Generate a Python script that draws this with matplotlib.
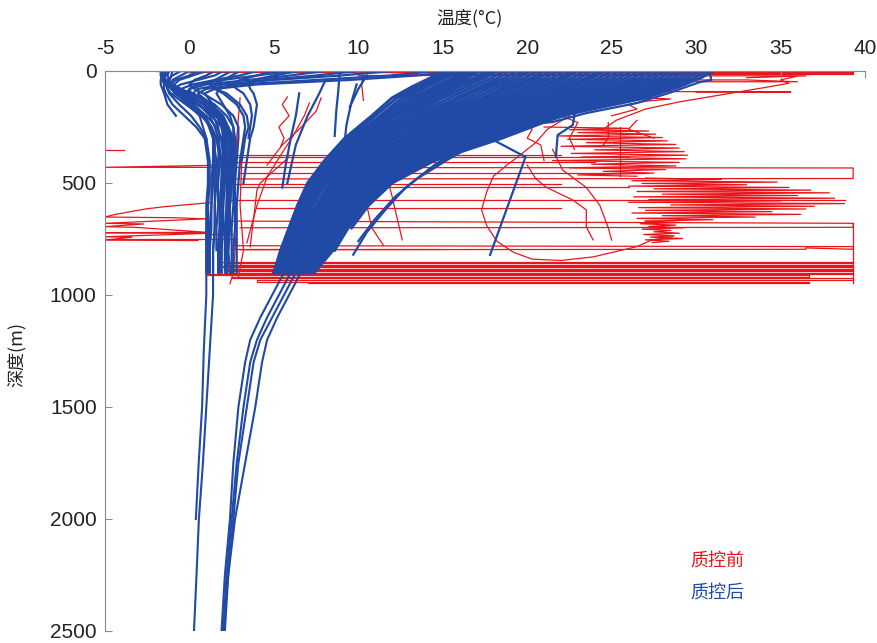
import matplotlib
matplotlib.use("Agg")
import matplotlib.pyplot as plt

# depth grids (m)
warm_depth = [0, 30, 70, 120, 200, 300, 400, 500, 600, 700, 800, 900]
cold_depth = [0, 20, 40, 60, 80, 100, 150, 200, 250, 300, 400, 500, 600, 700, 800, 900]
deep_warm_depth = [0, 50, 100, 200, 300, 400, 500, 600, 700, 800, 900, 1000, 1100, 1200, 1300, 1400, 1500,
                   1750, 2000, 2250, 2500]
deep_cold_depth = [0, 50, 100, 200, 300, 400, 500, 600, 700, 800, 900, 1000, 1250, 1500, 1750, 2000, 2250, 2500]

# after QC: warm profiles (temperature per depth level)
warm_T = [
    [15.0, 14.3, 13.2, 12.0, 10.8, 9.2, 8.0, 7.0, 6.4, 5.9, 5.4, 5.0],
    [15.3, 14.6, 13.5, 12.3, 11.0, 9.4, 8.1, 7.1, 6.5, 6.0, 5.5, 5.0],
    [15.6, 14.9, 13.8, 12.6, 11.3, 9.6, 8.3, 7.2, 6.6, 6.0, 5.5, 5.1],
    [16.0, 15.2, 14.1, 12.9, 11.5, 9.8, 8.4, 7.3, 6.6, 6.1, 5.6, 5.2],
    [16.3, 15.6, 14.5, 13.2, 11.7, 9.9, 8.5, 7.4, 6.7, 6.2, 5.7, 5.2],
    [16.6, 15.9, 14.8, 13.5, 11.9, 10.1, 8.6, 7.5, 6.8, 6.2, 5.7, 5.2],
    [16.9, 16.2, 15.1, 13.8, 12.1, 10.3, 8.8, 7.6, 6.9, 6.3, 5.8, 5.3],
    [17.2, 16.5, 15.4, 14.1, 12.3, 10.5, 8.9, 7.7, 7.0, 6.4, 5.8, 5.3],
    [17.6, 16.9, 15.7, 14.4, 12.6, 10.7, 9.0, 7.8, 7.1, 6.5, 5.9, 5.4],
    [17.9, 17.2, 16.0, 14.7, 12.8, 10.9, 9.1, 7.9, 7.1, 6.5, 6.0, 5.4],
    [18.2, 17.5, 16.4, 15.0, 13.0, 11.1, 9.3, 8.0, 7.2, 6.6, 6.1, 5.5],
    [18.6, 17.9, 16.8, 15.4, 13.3, 11.3, 9.4, 8.1, 7.3, 6.7, 6.2, 5.6],
    [19.0, 18.3, 17.2, 15.8, 13.6, 11.5, 9.6, 8.3, 7.5, 6.8, 6.3, 5.7],
    [19.4, 18.7, 17.5, 16.1, 13.9, 11.7, 9.8, 8.4, 7.6, 6.9, 6.3, 5.7],
    [19.8, 19.1, 17.9, 16.5, 14.2, 12.0, 10.0, 8.5, 7.7, 7.0, 6.4, 5.8],
    [20.2, 19.5, 18.3, 16.9, 14.4, 12.2, 10.1, 8.6, 7.8, 7.1, 6.5, 5.9],
    [20.6, 19.9, 18.7, 17.3, 14.7, 12.5, 10.3, 8.8, 7.9, 7.2, 6.6, 6.0],
    [21.0, 20.3, 19.1, 17.6, 15.0, 12.7, 10.4, 8.9, 8.0, 7.3, 6.7, 6.0],
    [21.4, 20.7, 19.5, 18.0, 15.3, 12.9, 10.6, 9.0, 8.1, 7.4, 6.8, 6.1],
    [21.8, 21.1, 19.9, 18.4, 15.5, 13.1, 10.7, 9.1, 8.2, 7.5, 6.8, 6.1],
    [22.2, 21.5, 20.3, 18.8, 15.8, 13.4, 10.9, 9.3, 8.3, 7.6, 6.9, 6.2],
    [22.6, 21.9, 20.7, 19.1, 16.1, 13.6, 11.1, 9.4, 8.4, 7.7, 7.0, 6.3],
    [23.0, 22.3, 21.1, 19.5, 16.4, 13.9, 11.3, 9.5, 8.5, 7.8, 7.1, 6.4],
    [23.4, 22.7, 21.5, 19.9, 16.7, 14.1, 11.4, 9.6, 8.6, 7.8, 7.2, 6.4],
    [23.8, 23.1, 21.9, 20.3, 17.0, 14.3, 11.6, 9.8, 8.7, 7.9, 7.3, 6.5],
    [24.2, 23.5, 22.3, 20.6, 17.2, 14.5, 11.7, 9.9, 8.8, 8.0, 7.3, 6.5],
    [24.6, 23.9, 22.7, 21.0, 17.5, 14.8, 11.9, 10.0, 8.9, 8.1, 7.4, 6.6],
    [25.0, 24.3, 23.1, 21.4, 17.8, 15.0, 12.0, 10.1, 9.0, 8.2, 7.5, 6.7],
    [25.4, 24.7, 23.5, 21.8, 18.1, 15.3, 12.2, 10.3, 9.1, 8.3, 7.6, 6.8],
    [25.8, 25.1, 23.9, 22.1, 18.3, 15.5, 12.4, 10.4, 9.2, 8.4, 7.7, 6.8],
    [26.2, 25.5, 24.3, 22.5, 18.6, 15.7, 12.6, 10.5, 9.3, 8.5, 7.8, 6.9],
    [26.6, 25.9, 24.7, 22.9, 18.9, 15.9, 12.7, 10.6, 9.4, 8.6, 7.9, 7.0],
    [27.0, 26.3, 25.1, 23.3, 19.2, 16.2, 12.9, 10.8, 9.6, 8.7, 8.0, 7.0],
    [27.4, 26.7, 25.4, 23.6, 19.5, 16.4, 13.0, 10.9, 9.7, 8.8, 8.0, 7.1],
    [27.8, 27.1, 25.8, 24.0, 19.8, 16.6, 13.2, 11.0, 9.8, 8.9, 8.1, 7.2],
    [28.2, 27.5, 26.2, 24.4, 20.0, 16.8, 13.3, 11.1, 9.9, 9.0, 8.2],
    [28.6, 27.9, 26.6, 24.8, 20.3, 17.1, 13.5, 11.3, 10.0, 9.1, 8.3, 7.3],
    [29.0, 28.3, 27.0, 25.1, 20.6, 17.3, 13.7, 11.4, 10.1, 9.1, 8.4],
    [29.4, 28.7, 27.4, 25.5, 20.9, 17.6, 13.9, 11.5, 10.2, 9.2, 8.5, 7.4],
    [29.8, 29.1, 27.8, 25.9, 21.1, 17.8, 14.0, 11.6, 10.3, 9.3],
    [30.2, 29.5, 28.2, 26.3, 21.4, 18.0, 14.2, 11.8, 10.4, 9.4, 8.6],
    [30.6, 29.9, 28.6, 26.6, 21.7, 18.2, 14.3, 11.9],
    [31.0, 30.3, 29.0, 27.0, 22.0, 18.5, 14.5, 12.0, 10.6, 9.6],
]

deep_warm_T = [
    [20.0, 18.5, 16.5, 13.6, 11.8, 10.0, 8.5, 7.6, 6.9, 6.2, 5.6, 4.9, 4.2, 3.6, 3.3, 3.1, 2.9, 2.6, 2.4, 2.1, 1.9],
    [23.0, 21.5, 19.5, 16.0, 13.6, 11.2, 9.5, 8.4, 7.6, 6.9, 6.3, 5.6, 4.9, 4.2, 3.8, 3.6, 3.4, 2.9, 2.6, 2.3, 2.0],
    [21.5, 20.0, 18.0, 15.0, 12.8, 10.6, 9.0, 8.0, 7.3, 6.6, 6.0, 5.3, 4.6, 4.0, 3.6, 3.4, 3.2, 2.8, 2.5, 2.2, 2.0],
    [24.5, 23.0, 21.0, 17.0, 14.5, 11.8, 10.0, 8.8, 8.0, 7.3, 6.6, 5.9, 5.2, 4.6, 4.3, 4.1, 3.9, 3.3, 2.7, 2.3, 2.1],
]

cold_T = [
    [-1.6, -1.6, -1.6, -1.5, -1.5, -1.4, -1.0, -0.3, 0.4, 0.9, 1.1, 1.1, 1.0, 1.0, 1.0, 1.0],
    [-1.5, -1.5, -1.4, -1.2, -1.0, -0.6, 0.3, 0.9, 1.3, 1.5, 1.5, 1.4, 1.3, 1.3, 1.2, 1.2],
    [-1.2, -1.3, -1.2, -1.0, -0.5, 0.0, 0.8, 1.4, 1.7, 1.8, 1.7, 1.6, 1.5, 1.5, 1.4, 1.4],
    [0.5, 0.0, -0.8, -1.2, -1.3, -1.1, -0.2, 0.7, 1.3, 1.6, 1.8, 1.7, 1.7, 1.6, 1.6],
    [2.0, 1.5, 0.5, -0.5, -1.0, -0.9, 0.2, 1.0, 1.6, 1.9, 2.0, 1.9, 1.8, 1.8, 1.7, 1.7],
    [4.0, 3.0, 1.5, 0.2, -0.5, -0.6, 0.5, 1.3, 1.9, 2.1, 2.1, 2.0, 1.9, 1.9, 1.8, 1.8],
    [8.0, 6.0, 3.5, 1.0, 0.0, -0.2, 0.9, 1.6, 2.0, 2.2, 2.2, 2.1, 2.0, 2.0, 1.9, 1.9],
    [12.0, 9.0, 5.0, 2.0, 0.5, 0.2, 1.1, 1.8, 2.1, 2.3, 2.3, 2.2, 2.2, 2.1, 2.1, 2.1],
    [14.5, 12.0, 7.5, 3.0, 1.0, 0.5, 1.3, 2.0, 2.3, 2.5, 2.5, 2.4, 2.3, 2.3, 2.2, 2.2],
    [-1.7, -1.7, -1.6, -1.4, -1.0, -0.3, 0.9, 1.7, 2.1, 2.4, 2.5, 2.5, 2.4, 2.4, 2.3],
    [0.0, -0.5, -1.0, -1.0, -0.6, 0.2, 1.5, 2.2, 2.6, 2.7, 2.7, 2.6, 2.6, 2.5, 2.5, 2.5],
    [1.5, 1.0, 0.3, 0.0, 0.3, 0.8, 1.9, 2.6, 2.9, 2.9, 2.8, 2.7, 2.7, 2.7, 2.6, 2.6],
    [3.0, 2.5, 2.0, 1.5, 1.5, 2.0, 2.8, 3.2, 3.3, 3.2, 3.0, 2.9, 2.8, 2.8, 2.8, 2.8],
    [5.0, 4.0, 3.0, 2.5, 2.8, 3.2, 3.6, 3.7, 3.6, 3.5],
    [6.5, 5.0, 3.8, 3.5, 3.6, 3.8, 4.0, 3.9, 3.8, 3.6, 3.4, 3.2],
    [-1.5, -1.6, -1.7, -1.7, -1.6, -1.5, -1.3, -0.8],
    [-1.3, -1.4, -1.5, -1.4, -1.3, -1.2, -0.6, 0.1, 0.6, 1.0, 1.2, 1.2, 1.1, 1.1, 1.1, 1.1],
    [10.0, 7.5, 4.5, 2.5, 1.8, 1.6, 2.0, 2.4, 2.6, 2.6, 2.5, 2.4, 2.3, 2.2, 2.2, 2.2],
    [2.5, 2.0, 1.5, 1.2, 1.5, 2.2, 3.0, 3.4, 3.5, 3.3, 3.1],
    [16.0, 13.5, 9.5, 4.0, 1.5, 0.9, 1.4, 1.8, 2.0, 2.1, 2.0, 1.9, 1.8, 1.8, 1.7, 1.7],
    [-1.4, -1.5, -1.5, -1.3, -1.1, -0.8, 0.0, 0.8, 1.2, 1.4, 1.4, 1.3, 1.3, 1.2, 1.2, 1.2],
    [-0.5, -1.0, -1.3, -1.2, -0.8, -0.4, 0.6, 1.2, 1.5, 1.7, 1.9, 1.9, 1.8, 1.8, 1.7, 1.7],
    [1.0, 0.2, -0.6, -0.9, -0.7, -0.2, 0.9, 1.6, 1.9, 2.0, 2.0, 2.0, 2.0, 1.9, 1.9, 1.9],
    [6.0, 4.0, 2.0, 0.5, 0.0, 0.1, 1.2, 1.9, 2.2, 2.4, 2.4, 2.3, 2.2, 2.2, 2.1, 2.2],
    [-1.6, -1.6, -1.5, -1.3, -0.9, -0.4, 0.5, 1.5, 2.3, 2.6, 2.6, 2.5, 2.4, 2.3, 2.3, 2.4],
]

deep_cold_T = [
    [-1.5, -1.4, -0.8, 0.6, 1.0, 1.1, 1.1, 1.1, 1.0, 1.0, 1.0, 1.0, 0.85, 0.75, 0.55, 0.38],
    [-1.0, -1.2, -0.5, 0.9, 1.4, 1.6, 1.5, 1.5, 1.5, 1.4, 1.4, 1.4, 1.2, 1.0, 0.8, 0.56, 0.42, 0.27],
]

# after QC: individual profiles as (temperature, depth) lists
blue_T = [
    [8.9, 8.8, 8.7, 8.6],
    [9.9, 9.6, 9.3, 9.2],
    [8.0, 7.7, 7.0, 6.3, 5.8],
    [6.5, 6.3, 6.0, 5.7, 5.5],
    [10.5, 10.0, 9.5],
    [30.8, 30.9, 30.2, 28.4, 26.5, 23.5, 21.5, 19.6, 17.5, 15.0],
    [23.5, 22.9, 22.7, 21.8, 21.7],
    [15.5, 18.0, 19.9, 17.8],
    [22.0, 19.0, 16.5, 14.5, 12.8, 11.6, 10.5, 9.7],
    [20.5, 17.5, 15.2, 13.5, 12.2, 11.0, 10.0],
    [24.0, 20.5, 18.0, 16.0, 14.2],
]
blue_D = [
    [10, 100, 174, 290],
    [60, 137, 240, 308],
    [50, 98, 200, 330, 500],
    [100, 200, 300, 420, 520],
    [20, 80, 160],
    [4, 40, 50, 98, 143, 188, 228, 241, 260, 330],
    [100, 152, 241, 286, 384],
    [250, 308, 384, 821],
    [150, 230, 320, 420, 520, 620, 720, 820],
    [200, 300, 400, 480, 560, 660, 760],
    [160, 240, 300, 360, 440],
]

# before QC: bad profiles
red_T = [
    [0.0, 39.3, 39.3, 25.0],
    [10.0, 36.5, 33.0],
    [-2.0, 15.0],
    [-1.8, 39.3],
    [5.0, 39.3, 39.3, 28.0],
    [12.0, 37.0, 35.0],
    [26.0, 33.0, 36.0, 30.0],
    [28.0, 32.0, 35.6, 30.0],
    [35.9, 35.0, 35.5, 33.9, 32.0, 29.0, 27.0, 25.3, 24.5],
    [27.0, 28.5, 27.0, 26.0, 26.5, 25.0],
    [22.5, 21.2, 20.5, 19.5, 18.8, 18.0, 17.6, 17.3, 17.6, 18.2, 19.2, 20.3, 22.0, 23.9, 26.5, 27.4, 28.6],
    [20.0, 20.5, 21.1, 22.7, 23.5, 23.5, 23.9],
    [24.8, 24.8, 24.5],
    [25.5, 25.5],
    [21.5, 22.1, 23.5, 24.3, 24.8, 25.0],
    [19.6, 20.3, 20.0, 20.8, 21.0],
    [22.0, 23.0, 22.5, 22.8],
    [26.5, 26.0, 27.5],
    [5.8, 5.5, 5.9, 5.3, 5.6, 5.4],
    [7.1, 6.8, 6.1, 5.2, 4.6, 4.0, 3.4],
    [7.8, 7.5, 6.5, 5.5, 4.6],
    [3.0, 2.8, 2.7, 2.8, 2.6, 2.4],
    [3.3, 3.1, 3.0, 3.2, 2.9],
    [5.9, 4.2, 4.0, 3.6],
    [11.7, 12.0, 12.6],
    [10.5, 10.8, 11.5],
    [10.3, 10.2, 10.3],
    [2.3, -5.0, 39.3, 39.3, 2.5],
    [2.4, 39.3, 39.3, 3.0],
    [2.5, 39.3, 39.3, 36.5, 36.5, 3.0],
    [-5.0, -3.9],
    [1.2, 0.0, -1.5, -2.5, -3.5, -4.5, -5.0, -1.0, 1.0, -5.0, -2.7, -5.0, -3.2, 1.0, -5.0, 1.0, -5.0, -3.4, -5.0, 0.5],
    [39.3, 39.3],
]
red_D = [
    [3, 3, 12, 12],
    [20, 22, 30],
    [2, 2],
    [1, 1],
    [6, 6, 9, 9],
    [15, 15, 18],
    [40, 40, 48, 48],
    [92, 92, 94, 94],
    [25, 40, 55, 76, 100, 138, 170, 219, 260],
    [120, 125, 135, 150, 170, 200],
    [200, 260, 320, 380, 420, 470, 540, 620, 690, 760, 810, 840, 846, 830, 784, 754, 740],
    [420, 480, 518, 576, 620, 696, 754],
    [230, 300, 330],
    [250, 470],
    [350, 442, 520, 600, 700, 755],
    [241, 260, 300, 330, 400],
    [200, 230, 300, 350],
    [220, 260, 300],
    [116, 150, 200, 250, 300, 339],
    [143, 200, 295, 400, 473, 600, 768],
    [120, 180, 260, 330, 420],
    [120, 300, 500, 700, 900, 950],
    [250, 400, 600, 800, 920],
    [384, 500, 531, 785],
    [473, 560, 754],
    [600, 700, 780],
    [9, 60, 131],
    [420, 430, 433, 480, 482],
    [670, 680, 698, 700],
    [780, 784, 796, 790, 796, 798],
    [352, 352],
    [588, 596, 606, 615, 628, 642, 652, 655, 660, 680, 683, 695, 698, 720, 722, 725, 740, 742, 755, 757],
    [680, 948],
]

# before QC: horizontal spikes (depth, from T, to T)
spike_depth = [375, 385, 405, 455, 505, 520, 578, 610, 727, 749, 794]
spike_T0 = [2.2, 2.4, 2.6, 3.0, 2.4, 3.0, 2.2, 4.0, 1.0, -5.0, 2.6]
spike_T1 = [22.0, 26.0, 24.0, 27.0, 22.0, 26.0, 38.8, 22.0, 2.5, 2.8, 14.7]

# before QC: noisy profiles
zz1_d = [250, 256, 262, 268, 275, 282, 290, 297, 305, 312, 320, 328, 336, 344, 352, 360, 368, 376, 384, 392,
         400, 408, 416, 424, 432, 440, 448, 456, 464, 470]
zz1_T = [21.0, 26.0, 22.5, 27.2, 23.0, 27.6, 21.8, 28.0, 22.4, 28.3, 23.5, 28.8, 22.0, 29.0, 24.0, 29.3, 22.6,
         29.5, 23.2, 29.4, 21.5, 29.0, 23.8, 28.8, 22.5, 28.2, 24.5, 27.5, 23.0, 26.5]
zz2_d = [478, 484, 490, 496, 502, 508, 514, 520, 526, 532, 538, 544, 550, 556, 562, 568, 574, 580, 586, 592,
         598, 604, 610, 616, 622, 628, 634, 640, 646, 652, 658, 664, 670]
zz2_T = [27.0, 31.5, 26.2, 34.8, 26.8, 33.0, 26.0, 35.5, 27.5, 36.8, 26.5, 37.9, 28.0, 36.0, 26.3, 38.2, 27.2,
         35.0, 26.0, 38.8, 28.5, 37.0, 26.6, 36.5, 27.0, 34.5, 26.2, 36.2, 28.0, 33.5, 26.5, 31.0, 27.0]
zz3_d = [670, 676, 682, 688, 694, 700, 706, 712, 718, 724, 730, 736, 742, 748, 754, 760, 766]
zz3_T = [27.0, 29.0, 26.7, 28.8, 27.2, 29.3, 26.8, 28.5, 27.5, 29.0, 26.9, 28.7, 27.3, 29.2, 27.0, 28.4, 27.4]
band_d = [852, 852, 858, 858, 864, 864, 870, 870, 876, 876, 882, 882, 888, 888, 894, 894, 900, 900, 906, 906,
          912, 912, 918, 918, 924, 924, 932, 932, 940, 940, 946, 946]
band_T = [2.0, 39.3, 39.3, 2.2, 2.2, 39.3, 39.3, 2.0, 2.0, 39.3, 39.3, 2.3, 2.3, 39.3, 39.3, 2.1, 2.1, 39.3,
          39.3, 1.0, 1.0, 36.7, 36.7, 2.5, 2.5, 39.3, 39.3, 4.0, 4.0, 36.7, 36.7, 7.0]

red = '#e8161b'
blue = '#2149a6'
cjk = ['Noto Sans CJK SC', 'DejaVu Sans']

plt.rcParams['font.family'] = ['Liberation Sans', 'DejaVu Sans']
plt.rcParams['axes.unicode_minus'] = False

fig = plt.figure(figsize=(8.77, 6.43), dpi=100)
ax = fig.add_axes([0.1197, 0.0187, 0.8666, 0.8709])

# before QC
for t, d in zip(red_T, red_D):
    ax.plot(t, d, color=red, lw=0.9, zorder=1)
for d, t0, t1 in zip(spike_depth, spike_T0, spike_T1):
    ax.plot([t0, t1], [d, d], color=red, lw=0.9, zorder=1)
for t, d in [(zz1_T, zz1_d), (zz2_T, zz2_d), (zz3_T, zz3_d), (band_T, band_d)]:
    ax.plot(t, d, color=red, lw=0.9, zorder=1)

# after QC
for t in warm_T:
    ax.plot(t, warm_depth[:len(t)], color=blue, lw=2.2, zorder=2)
for t in deep_warm_T:
    ax.plot(t, deep_warm_depth[:len(t)], color=blue, lw=1.5, zorder=2)
for t in cold_T:
    ax.plot(t, cold_depth[:len(t)], color=blue, lw=1.6, zorder=2)
for t in deep_cold_T:
    ax.plot(t, deep_cold_depth[:len(t)], color=blue, lw=1.5, zorder=2)
for t, d in zip(blue_T, blue_D):
    ax.plot(t, d, color=blue, lw=1.6, zorder=2)

ax.set_xlim(-5, 40)
ax.set_ylim(2500, 0)
ax.set_xticks(range(-5, 41, 5))
ax.set_yticks(range(0, 2501, 500))
ax.xaxis.tick_top()
ax.tick_params(direction='in', length=5, labelsize=15, colors='#888888', labelcolor='#222222')
ax.tick_params(axis='x', pad=9)
ax.tick_params(axis='y', pad=6)
ax.spines['right'].set_visible(False)
ax.spines['bottom'].set_visible(False)
ax.spines['top'].set_color('#888888')
ax.spines['left'].set_color('#888888')

fig.text(0.535, 0.972, '温度(°C)', family=cjk, fontsize=13, ha='center', va='center', color='#222222')
fig.text(0.019, 0.448, '深度(m)', family=cjk, fontsize=13, ha='center', va='center', rotation=90, color='#222222')
fig.text(0.787, 0.129, '质控前', family=cjk, fontsize=13, ha='left', va='center', color=red)
fig.text(0.787, 0.079, '质控后', family=cjk, fontsize=13, ha='left', va='center', color=blue)

fig.savefig('out.png', dpi=100)
